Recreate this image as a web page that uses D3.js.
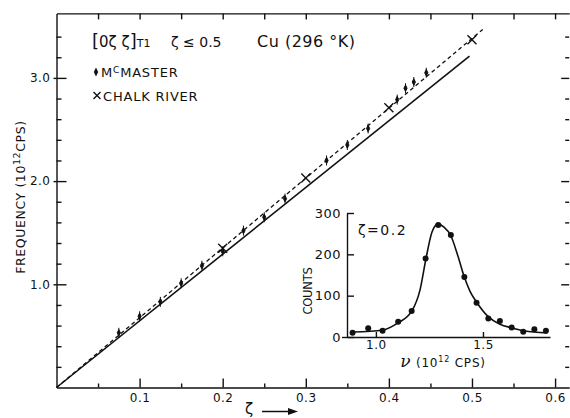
<!DOCTYPE html>
<html>
<head>
<meta charset="utf-8">
<script src="https://cdn.jsdelivr.net/npm/d3@7"></script>
<style>
  body { margin: 0; background: #fff; }
  svg { display: block; }
  text { font-family: "DejaVu Sans", sans-serif; fill: #111; }
  .axis path, .axis line { stroke: #111; stroke-width: 1.4; }
  .axis text { font-size: 12px; letter-spacing: 0.5px; }
</style>
</head>
<body>
<div id="chart"></div>
<script>
// ---- Data -------------------------------------------------------------
// main panel: dispersion of [0 zeta zeta] T1 phonons in Cu
const mcmasterZeta = [0.075, 0.1, 0.125, 0.15, 0.175, 0.2, 0.225, 0.25, 0.275, 0.325, 0.35, 0.375, 0.41, 0.42, 0.43, 0.445];
const mcmasterFreq = [0.53, 0.69, 0.83, 1.01, 1.18, 1.32, 1.52, 1.65, 1.83, 2.20, 2.35, 2.51, 2.79, 2.90, 2.96, 3.05];

const chalkZeta = [0.2, 0.3, 0.4, 0.5];
const chalkFreq = [1.35, 2.03, 2.71, 3.37];

const dashedZeta = [0, 0.513];
const dashedFreq = [0, 3.47];
const solidZeta  = [0, 0.497];
const solidFreq  = [0, 3.21];

const zetaTicks      = [0.1, 0.2, 0.3, 0.4, 0.5, 0.6];
const zetaTickLabels = ['0.1', '0.2', '0.3', '0.4', '0.5', '0.6'];
const zetaMinor      = [0.05, 0.15, 0.25, 0.35, 0.45, 0.55];
const freqTicks      = [1.0, 2.0, 3.0];
const freqTickLabels = ['1.0', '2.0', '3.0'];
const freqMinor      = [0.2, 0.4, 0.6, 0.8, 1.2, 1.4, 1.6, 1.8, 2.2, 2.4, 2.6, 2.8, 3.2, 3.4];

// inset: neutron group at zeta = 0.2
const insetNu     = [0.891, 0.964, 1.031, 1.104, 1.167, 1.232, 1.291, 1.350, 1.413, 1.470, 1.525, 1.579, 1.634, 1.688, 1.740, 1.794];
const insetCounts = [10, 21, 15, 37, 63, 190, 271, 247, 145, 83, 45, 39, 23, 13, 19, 15];

const fitNu     = [0.893, 1.033, 1.103, 1.168, 1.206, 1.234, 1.262, 1.290, 1.318, 1.350, 1.383, 1.411, 1.439, 1.472, 1.523, 1.579, 1.636, 1.692, 1.800];
const fitCounts = [12, 17, 34, 63, 114, 190, 254, 273, 266, 245, 196, 148, 111, 83, 50, 31, 22, 15, 10];

const nuTicks         = [1.0, 1.5];
const nuTickLabels    = ['1.0', '1.5'];
const countTicks      = [0, 100, 200, 300];
const countTickLabels = ['0', '100', '200', '300'];

// ---- Dimensions -------------------------------------------------------
const dimensions = { width: 570, height: 418 };
const plot  = { left: 56.5, right: 569.2, top: 13.4, bottom: 387.5 };
const inset = { left: 347, right: 550, top: 213, bottom: 337 };

const svg = d3.select('#chart')
  .append('svg')
  .attr('width', dimensions.width)
  .attr('height', dimensions.height);

// ---- Scales -----------------------------------------------------------
const xScale = d3.scaleLinear().domain([0, 0.617]).range([plot.left, plot.right]);
const yScale = d3.scaleLinear().domain([0, 3.625]).range([plot.bottom, plot.top]);

const nuScale    = d3.scaleLinear().domain([0.865, 1.813]).range([inset.left, inset.right]);
const countScale = d3.scaleLinear().domain([0, 300]).range([inset.bottom, inset.top]);

// ---- Main axes --------------------------------------------------------
svg.append('g')
  .classed('axis', true)
  .attr('transform', `translate(0,${plot.bottom})`)
  .call(d3.axisBottom(xScale)
    .tickValues(zetaTicks)
    .tickSize(-9).tickSizeOuter(0).tickPadding(6)
    .tickFormat((d, i) => zetaTickLabels[i]));

svg.append('g')
  .classed('axis', true)
  .attr('transform', `translate(0,${plot.bottom})`)
  .call(d3.axisBottom(xScale).tickValues(zetaMinor).tickSize(-4).tickFormat(''))
  .call(g => g.select('.domain').remove());

svg.append('g')
  .classed('axis', true)
  .attr('transform', `translate(${plot.left},0)`)
  .call(d3.axisLeft(yScale)
    .tickValues(freqTicks)
    .tickSize(-10).tickSizeOuter(0).tickPadding(6)
    .tickFormat((d, i) => freqTickLabels[i]));

svg.append('g')
  .classed('axis', true)
  .attr('transform', `translate(${plot.left},0)`)
  .call(d3.axisLeft(yScale).tickValues(freqTicks).tickSize(3).tickFormat(''))
  .call(g => g.select('.domain').remove());

svg.append('g')
  .classed('axis', true)
  .attr('transform', `translate(${plot.left},0)`)
  .call(d3.axisLeft(yScale).tickValues(freqMinor).tickSize(-5).tickFormat(''))
  .call(g => g.select('.domain').remove());

// top frame with ticks every 0.05
svg.append('g')
  .classed('axis', true)
  .attr('transform', `translate(0,${plot.top})`)
  .call(d3.axisTop(xScale)
    .tickValues(zetaTicks.concat(zetaMinor))
    .tickSize(-6).tickSizeOuter(0).tickFormat(''));

// right frame ticks (frame line itself falls off the page)
svg.append('g')
  .classed('axis', true)
  .attr('transform', `translate(${plot.right},0)`)
  .call(d3.axisRight(yScale).tickValues(freqMinor).tickSize(-4).tickFormat(''))
  .call(g => g.select('.domain').remove());

svg.append('g')
  .classed('axis', true)
  .attr('transform', `translate(${plot.right},0)`)
  .call(d3.axisRight(yScale).tickValues(freqTicks).tickSize(-8).tickFormat(''))
  .call(g => g.select('.domain').remove());

// ---- Axis titles ------------------------------------------------------
const yTitle = svg.append('text')
  .attr('transform', 'translate(25,197) rotate(-90)')
  .attr('text-anchor', 'middle')
  .style('font-size', '12.5px')
  .style('letter-spacing', '0.6px');
yTitle.append('tspan').text('FREQUENCY  (10');
yTitle.append('tspan').attr('dy', -5).style('font-size', '9.5px').text('12');
yTitle.append('tspan').attr('dy', 5).text('CPS)');

svg.append('text')
  .attr('x', 249)
  .attr('y', 414)
  .attr('text-anchor', 'middle')
  .style('font-size', '15px')
  .text('ζ');

svg.append('path')
  .attr('d', 'M262,411.5 H290')
  .attr('stroke', '#111')
  .attr('stroke-width', 1.5);
svg.append('path')
  .attr('d', 'M298,411.5 L288,408 L288,415 Z')
  .attr('fill', '#111');

// ---- Lines ------------------------------------------------------------
const line = d3.line()
  .x(d => xScale(d[0]))
  .y(d => yScale(d[1]));

svg.append('path')
  .datum(d3.zip(solidZeta, solidFreq))
  .attr('fill', 'none')
  .attr('stroke', '#111')
  .attr('stroke-width', 1.6)
  .attr('d', line);

svg.append('path')
  .datum(d3.zip(dashedZeta, dashedFreq))
  .attr('fill', 'none')
  .attr('stroke', '#111')
  .attr('stroke-width', 1.3)
  .attr('stroke-dasharray', '4,3')
  .attr('d', line);

// ---- Points -----------------------------------------------------------
const diamondPath = 'M0,-5 V5 M0,-3.2 L1.6,0 L0,3.2 L-1.6,0 Z';
const crossPath = s => `M${-s},${-s} L${s},${s} M${-s},${s} L${s},${-s}`;

svg.append('g')
  .selectAll('path')
  .data(d3.zip(mcmasterZeta, mcmasterFreq))
  .join('path')
  .attr('transform', d => `translate(${xScale(d[0])},${yScale(d[1])})`)
  .attr('d', diamondPath)
  .attr('fill', '#111')
  .attr('stroke', '#111')
  .attr('stroke-width', 1);

svg.append('g')
  .selectAll('path')
  .data(d3.zip(chalkZeta, chalkFreq))
  .join('path')
  .attr('transform', d => `translate(${xScale(d[0])},${yScale(d[1])})`)
  .attr('d', crossPath(4.5))
  .attr('fill', 'none')
  .attr('stroke', '#111')
  .attr('stroke-width', 1.4);

// ---- Annotations ------------------------------------------------------
const head = svg.append('text')
  .attr('x', 92)
  .attr('y', 47)
  .style('font-size', '15px');
head.append('tspan').style('font-size', '18px').text('[');
head.append('tspan').text('0ζ ζ');
head.append('tspan').style('font-size', '18px').text(']');
head.append('tspan').style('font-size', '11px').text('T1');

svg.append('text')
  .attr('x', 171)
  .attr('y', 47)
  .style('font-size', '14px')
  .text('ζ ≤ 0.5');

svg.append('text')
  .attr('x', 257)
  .attr('y', 47)
  .style('font-size', '16px')
  .style('letter-spacing', '0.5px')
  .text('Cu (296 °K)');

svg.append('path')
  .attr('transform', 'translate(96,72)')
  .attr('d', 'M0,-4.5 L2.2,0 L0,4.5 L-2.2,0 Z')
  .attr('fill', '#111');

const mc = svg.append('text')
  .attr('x', 101)
  .attr('y', 77)
  .style('font-size', '13px')
  .style('letter-spacing', '0.8px');
mc.append('tspan').text('M');
mc.append('tspan').attr('dy', -4).style('font-size', '9px').text('C');
mc.append('tspan').attr('dy', 4).text('MASTER');

svg.append('path')
  .attr('transform', 'translate(97,95.5)')
  .attr('d', crossPath(3.5))
  .attr('stroke', '#111')
  .attr('stroke-width', 1.4);

svg.append('text')
  .attr('x', 103)
  .attr('y', 100.5)
  .style('font-size', '13px')
  .style('letter-spacing', '0.8px')
  .text('CHALK  RIVER');

// ---- Inset ------------------------------------------------------------
svg.append('g')
  .classed('axis', true)
  .attr('transform', `translate(0,${inset.bottom})`)
  .call(d3.axisBottom(nuScale)
    .tickValues(nuTicks)
    .tickSize(-5).tickSizeOuter(0).tickPadding(3)
    .tickFormat((d, i) => nuTickLabels[i]));

svg.append('g')
  .classed('axis', true)
  .attr('transform', `translate(${inset.left},0)`)
  .call(d3.axisLeft(countScale)
    .tickValues(countTicks)
    .tickSize(-7).tickSizeOuter(0).tickPadding(6)
    .tickFormat((d, i) => countTickLabels[i]))
  .call(g => g.selectAll('.tick text').style('font-size', '13px'));

svg.append('g')
  .classed('axis', true)
  .attr('transform', `translate(${inset.left},0)`)
  .call(d3.axisLeft(countScale).tickValues(countTicks.slice(0, 1)).tickSize(5).tickFormat(''))
  .call(g => g.select('.domain').remove());

svg.append('path')
  .datum(d3.zip(fitNu, fitCounts))
  .attr('fill', 'none')
  .attr('stroke', '#111')
  .attr('stroke-width', 1.6)
  .attr('d', d3.line()
    .curve(d3.curveMonotoneX)
    .x(d => nuScale(d[0]))
    .y(d => countScale(d[1])));

svg.append('g')
  .selectAll('circle')
  .data(d3.zip(insetNu, insetCounts))
  .join('circle')
  .attr('cx', d => nuScale(d[0]))
  .attr('cy', d => countScale(d[1]))
  .attr('r', 3)
  .attr('fill', '#111');

svg.append('text')
  .attr('transform', 'translate(312,291) rotate(-90)')
  .attr('text-anchor', 'middle')
  .style('font-size', '11.5px')
  .style('letter-spacing', '-0.2px')
  .text('COUNTS');

svg.append('text')
  .attr('x', 358)
  .attr('y', 235)
  .style('font-size', '14px')
  .style('letter-spacing', '1.5px')
  .text('ζ=0.2');

const nuTitle = svg.append('text')
  .attr('x', 443)
  .attr('y', 367)
  .attr('text-anchor', 'middle')
  .style('font-size', '12px')
  .style('letter-spacing', '0.8px');
nuTitle.append('tspan')
  .style('font-family', '"DejaVu Serif", serif')
  .style('font-style', 'italic')
  .style('font-size', '17px')
  .text('ν');
nuTitle.append('tspan').text('  (10');
nuTitle.append('tspan').attr('dy', -5).style('font-size', '8px').text('12');
nuTitle.append('tspan').attr('dy', 5).text(' CPS)');
</script>
</body>
</html>
